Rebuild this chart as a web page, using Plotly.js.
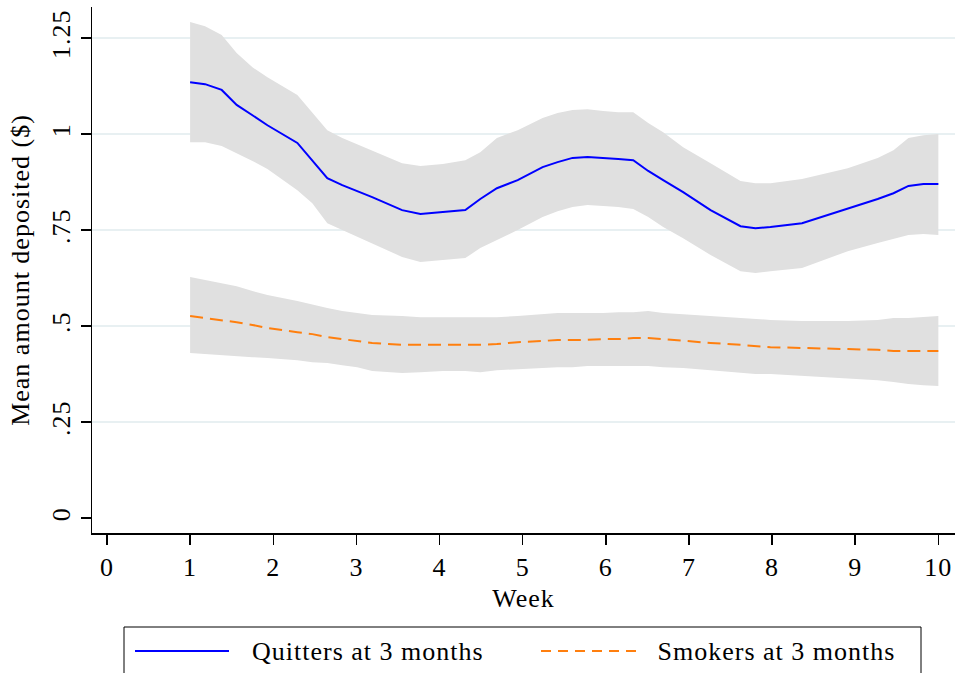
<!DOCTYPE html>
<html>
<head>
<meta charset="utf-8">
<script src="https://cdn.plot.ly/plotly-3.0.1.min.js"></script>
<style>
html,body{margin:0;padding:0;background:#fff;}
#chart{width:955px;height:673px;}
#chart text{letter-spacing:1px;}
</style>
</head>
<body>
<div id="chart"></div>
<script>
// Weeks (x positions of the smoothed estimates)
const weeks = [1, 1.18, 1.38, 1.56, 1.75, 1.93, 2.29, 2.47, 2.65, 2.83, 3.01, 3.19, 3.55, 3.77, 4.04, 4.31, 4.49, 4.69, 4.94, 5.24, 5.42, 5.6, 5.78, 5.97, 6.15, 6.33, 6.51, 6.69, 6.93, 7.26, 7.62, 7.8, 7.98, 8.36, 8.7, 8.91, 9.27, 9.46, 9.64, 9.82, 10];

// Quitters at 3 months
const quitMean = [1.135, 1.130, 1.115, 1.076, 1.049, 1.023, 0.977, 0.932, 0.885, 0.867, 0.852, 0.836, 0.802, 0.792, 0.797, 0.802, 0.831, 0.859, 0.880, 0.914, 0.927, 0.938, 0.940, 0.938, 0.935, 0.932, 0.904, 0.880, 0.849, 0.802, 0.760, 0.755, 0.758, 0.768, 0.792, 0.805, 0.831, 0.846, 0.865, 0.870, 0.870];
const quitUpper = [1.292, 1.281, 1.258, 1.211, 1.174, 1.148, 1.102, 1.057, 1.010, 0.990, 0.974, 0.958, 0.924, 0.917, 0.922, 0.932, 0.953, 0.990, 1.010, 1.042, 1.055, 1.063, 1.065, 1.060, 1.057, 1.057, 1.029, 1.005, 0.966, 0.924, 0.878, 0.872, 0.872, 0.883, 0.901, 0.911, 0.938, 0.958, 0.990, 0.997, 1.000];
const quitLower = [0.979, 0.979, 0.969, 0.951, 0.930, 0.909, 0.854, 0.820, 0.768, 0.750, 0.732, 0.716, 0.680, 0.667, 0.672, 0.677, 0.703, 0.724, 0.750, 0.784, 0.799, 0.810, 0.815, 0.813, 0.810, 0.805, 0.784, 0.758, 0.729, 0.685, 0.643, 0.638, 0.643, 0.651, 0.677, 0.695, 0.716, 0.727, 0.737, 0.740, 0.737];

// Smokers at 3 months
const smokMean = [0.526, 0.521, 0.516, 0.510, 0.503, 0.495, 0.484, 0.479, 0.471, 0.466, 0.461, 0.456, 0.451, 0.451, 0.451, 0.451, 0.451, 0.453, 0.458, 0.461, 0.464, 0.464, 0.464, 0.466, 0.466, 0.469, 0.469, 0.466, 0.461, 0.456, 0.451, 0.448, 0.445, 0.443, 0.440, 0.440, 0.438, 0.435, 0.435, 0.435, 0.435];
const smokUpper = [0.628, 0.620, 0.612, 0.604, 0.591, 0.581, 0.565, 0.555, 0.547, 0.539, 0.534, 0.529, 0.526, 0.523, 0.523, 0.523, 0.523, 0.523, 0.526, 0.531, 0.534, 0.534, 0.534, 0.534, 0.536, 0.536, 0.539, 0.534, 0.531, 0.526, 0.521, 0.518, 0.516, 0.513, 0.513, 0.513, 0.516, 0.521, 0.521, 0.523, 0.526];
const smokLower = [0.430, 0.427, 0.424, 0.422, 0.419, 0.417, 0.411, 0.406, 0.404, 0.398, 0.393, 0.383, 0.378, 0.380, 0.383, 0.383, 0.380, 0.385, 0.388, 0.391, 0.393, 0.393, 0.396, 0.396, 0.396, 0.396, 0.396, 0.393, 0.391, 0.385, 0.378, 0.375, 0.375, 0.370, 0.365, 0.362, 0.359, 0.354, 0.349, 0.346, 0.344];

// Axis ticks
const xTicks = [0, 1, 2, 3, 4, 5, 6, 7, 8, 9, 10];
const yTicks = [0, 0.25, 0.5, 0.75, 1, 1.25];
const yTickText = ['0', '.25', '.5', '.75', '1', '1.25'];
const gridVals = [0.25, 0.5, 0.75, 1, 1.25];

const seriesNames = ['Quitters at 3 months', 'Smokers at 3 months'];
const seriesColors = ['#0000ff', '#ff7f0e'];

const FONT = 'Liberation Serif, Times New Roman, serif';
const FS = 26;
const bandColor = '#e0e0e0';

const traces = [
  {x: weeks, y: quitLower, type: 'scatter', mode: 'lines', line: {width: 0, color: bandColor}, showlegend: false, hoverinfo: 'skip'},
  {x: weeks, y: quitUpper, type: 'scatter', mode: 'lines', line: {width: 0, color: bandColor}, fill: 'tonexty', fillcolor: bandColor, showlegend: false, hoverinfo: 'skip'},
  {x: weeks, y: smokLower, type: 'scatter', mode: 'lines', line: {width: 0, color: bandColor}, showlegend: false, hoverinfo: 'skip'},
  {x: weeks, y: smokUpper, type: 'scatter', mode: 'lines', line: {width: 0, color: bandColor}, fill: 'tonexty', fillcolor: bandColor, showlegend: false, hoverinfo: 'skip'},
  {x: weeks, y: quitMean, type: 'scatter', mode: 'lines', name: seriesNames[0], line: {color: seriesColors[0], width: 2}, showlegend: false},
  {x: weeks, y: smokMean, type: 'scatter', mode: 'lines', name: seriesNames[1], line: {color: seriesColors[1], width: 2, dash: '13px,7px'}, showlegend: false}
];

// grid lines (no line at 0, as in the original)
const shapes = gridVals.map(v => ({
  type: 'line', xref: 'paper', yref: 'y', x0: 0, x1: 1, y0: v, y1: v,
  line: {color: '#e8f0f2', width: 2}, layer: 'below'
}));

// legend frame and samples (paper coordinates)
function px2x(px){ return (px - 92) / 863; }
function py2y(py){ return (533 - py) / 526; }
shapes.push({type: 'rect', xref: 'paper', yref: 'paper', x0: px2x(124), x1: px2x(921), y0: py2y(627), y1: py2y(700), line: {color: '#000', width: 1}, fillcolor: 'rgba(0,0,0,0)'});
shapes.push({type: 'line', xref: 'paper', yref: 'paper', x0: px2x(135), x1: px2x(229), y0: py2y(651), y1: py2y(651), line: {color: seriesColors[0], width: 2}});
shapes.push({type: 'line', xref: 'paper', yref: 'paper', x0: px2x(541), x1: px2x(636), y0: py2y(651), y1: py2y(651), line: {color: seriesColors[1], width: 2, dash: '10px,7px'}});

const annotations = [
  {xref: 'paper', yref: 'paper', x: px2x(260), y: py2y(652), xanchor: 'left', yanchor: 'middle', text: seriesNames[0], showarrow: false, font: {family: FONT, size: FS, color: '#000'}},
  {xref: 'paper', yref: 'paper', x: px2x(665), y: py2y(652), xanchor: 'left', yanchor: 'middle', text: seriesNames[1], showarrow: false, font: {family: FONT, size: FS, color: '#000'}}
];

const layout = {
  width: 955, height: 673,
  margin: {l: 92, r: 0, t: 7, b: 140, pad: 0},
  paper_bgcolor: '#ffffff', plot_bgcolor: '#ffffff',
  showlegend: false,
  font: {family: FONT, size: FS, color: '#000'},
  xaxis: {
    range: [-0.18, 10.2], tickvals: xTicks, ticktext: xTicks.map(String),
    showgrid: false, zeroline: false, showline: true, linecolor: '#000', linewidth: 1.5,
    ticks: 'outside', ticklen: 10, tickwidth: 1.5, tickcolor: '#000',
    tickfont: {family: FONT, size: FS, color: '#000'},
    title: {text: 'Week', font: {family: FONT, size: FS, color: '#000'}, standoff: 8}
  },
  yaxis: {
    range: [-0.039, 1.331], tickvals: yTicks, ticktext: yTickText, tickangle: -90,
    showgrid: false, zeroline: false, showline: true, linecolor: '#000', linewidth: 1.5,
    ticks: 'outside', ticklen: 10, tickwidth: 1.5, tickcolor: '#000',
    tickfont: {family: FONT, size: FS, color: '#000'},
    title: {text: 'Mean amount deposited ($)', font: {family: FONT, size: FS, color: '#000'}, standoff: 10}
  },
  shapes: shapes,
  annotations: annotations
};

Plotly.newPlot('chart', traces, layout, {displayModeBar: false, staticPlot: true});
</script>
</body>
</html>
